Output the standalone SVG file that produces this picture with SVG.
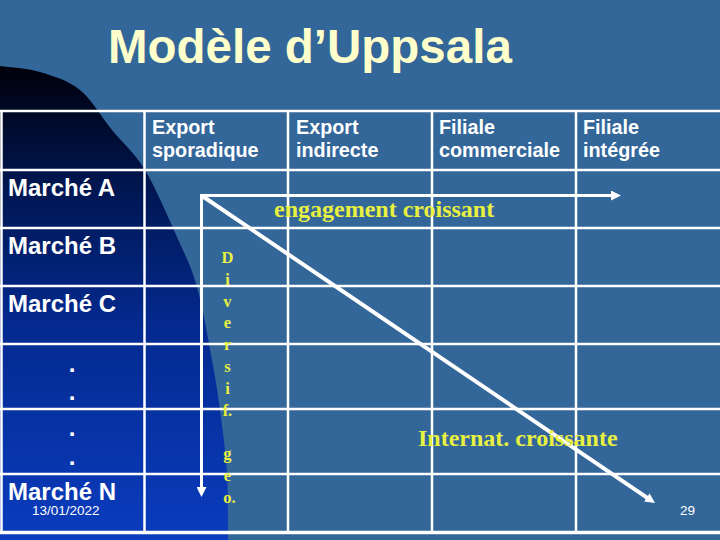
<svg xmlns="http://www.w3.org/2000/svg" width="720" height="540" viewBox="0 0 720 540">
  <defs>
    <linearGradient id="darkGrad" gradientUnits="userSpaceOnUse" x1="0" y1="66" x2="0" y2="540">
      <stop offset="0" stop-color="#00000a"/>
      <stop offset="0.25" stop-color="#001650"/>
      <stop offset="0.55" stop-color="#042a90"/>
      <stop offset="1" stop-color="#0a3cbd"/>
    </linearGradient>
    <marker id="head" viewBox="0 0 10 10" refX="3" refY="5" markerWidth="10" markerHeight="10" markerUnits="userSpaceOnUse" orient="auto-start-reverse">
      <path d="M0,0 L10,5 L0,10 z" fill="#ffffff"/>
    </marker>
    <style>
      .grid { stroke: #ffffff; stroke-width: 2.5; fill: none; }
      .hdr { font-family: "Liberation Sans", Arial, sans-serif; font-weight: bold; font-size: 19.8px; fill: #ffffff; }
      .row { font-family: "Liberation Sans", Arial, sans-serif; font-weight: bold; font-size: 24px; fill: #ffffff; }
      .yel { font-family: "Liberation Serif", "Times New Roman", serif; font-weight: bold; font-size: 24px; fill: #e8f040; }
      .vert { font-family: "Liberation Serif", "Times New Roman", serif; font-weight: bold; font-size: 16.5px; fill: #e8f040; text-anchor: middle; }
      .small { font-family: "Liberation Sans", Arial, sans-serif; font-size: 13.5px; fill: #ffffff; }
      .arrow { stroke: #ffffff; fill: none; marker-end: url(#head); }
    </style>
  </defs>

  <g id="background">
    <rect x="0" y="0" width="720" height="540" fill="#336699"/>
    <path fill="url(#darkGrad)" d="M0,66 C10,67.3 26.7,68 40,72 C53.3,76 68,80.3 80,90 C92,99.7 101.2,116.7 112,130 C122.8,143.3 134.2,152.2 145,170 C155.8,187.8 168.3,217.5 177,237 C185.7,256.5 191.2,266.5 197,287 C202.8,307.5 208.2,339.5 212,360 C215.8,380.5 217.5,391.2 220,410 C222.5,428.8 225.7,451.3 227,473 C228.3,494.7 227.8,525.5 228,540 L0,540 Z"/>
  </g>

  <g id="title">
    <text x="108" y="63" font-family="Liberation Sans, Arial, sans-serif" font-weight="bold" font-size="47.5" fill="#ffffcc">Modèle d’Uppsala</text>
  </g>

  <g id="table-grid">
    <path class="grid" d="M0,111 H720 M0,170 H720 M0,228 H720 M0,286 H720 M0,344 H720 M0,409 H720 M0,474 H720"/>
    <path class="grid" d="M1.5,111 V532 M144.5,111 V532 M288,111 V532 M432,111 V532 M576,111 V532"/>
    <line x1="0" y1="532.5" x2="720" y2="532.5" stroke="#ffffff" stroke-width="3.5"/>
  </g>

  <g id="col-export-sporadique">
    <text class="hdr" x="152" y="133.5">Export<tspan x="152" y="157">sporadique</tspan></text>
  </g>
  <g id="col-export-indirecte">
    <text class="hdr" x="296" y="133.5">Export<tspan x="296" y="157">indirecte</tspan></text>
  </g>
  <g id="col-filiale-commerciale">
    <text class="hdr" x="439" y="133.5">Filiale<tspan x="439" y="157">commerciale</tspan></text>
  </g>
  <g id="col-filiale-integree">
    <text class="hdr" x="583" y="133.5">Filiale<tspan x="583" y="157">intégrée</tspan></text>
  </g>

  <g id="row-marche-a"><text class="row" x="8" y="196">Marché A</text></g>
  <g id="row-marche-b"><text class="row" x="8" y="254">Marché B</text></g>
  <g id="row-marche-c"><text class="row" x="8" y="312">Marché C</text></g>
  <g id="row-dots">
    <text class="row" x="72" y="372" text-anchor="middle">.</text>
    <text class="row" x="72" y="400" text-anchor="middle">.</text>
    <text class="row" x="72" y="436" text-anchor="middle">.</text>
    <text class="row" x="72" y="465" text-anchor="middle">.</text>
  </g>
  <g id="row-marche-n"><text class="row" x="8" y="500">Marché N</text></g>

  <g id="connectors">
    <path class="arrow" stroke-width="3" stroke-linejoin="miter" marker-start="url(#head)" d="M201.5,490 V195.5 H614"/>
    <line class="arrow" stroke-width="4" x1="201.5" y1="195.5" x2="649.2" y2="499.1"/>
  </g>

  <g id="labels">
    <text class="yel" x="274" y="217">engagement croissant</text>
    <text class="yel" x="418" y="446">Internat. croissante</text>
    <text class="vert">
      <tspan x="229.5" y="263">D</tspan>
      <tspan x="229.5" y="285">i</tspan>
      <tspan x="229.5" y="306.5">v</tspan>
      <tspan x="229.5" y="328">e</tspan>
      <tspan x="229.5" y="350">r</tspan>
      <tspan x="229.5" y="372">s</tspan>
      <tspan x="229.5" y="394">i</tspan>
      <tspan x="229.5" y="415.5">f.</tspan>
      <tspan x="229.5" y="459">g</tspan>
      <tspan x="229.5" y="481">e</tspan>
      <tspan x="229.5" y="502.5">o.</tspan>
    </text>
  </g>

  <g id="footer">
    <text class="small" x="32" y="515">13/01/2022</text>
    <text class="small" x="680" y="514.7">29</text>
  </g>
</svg>
